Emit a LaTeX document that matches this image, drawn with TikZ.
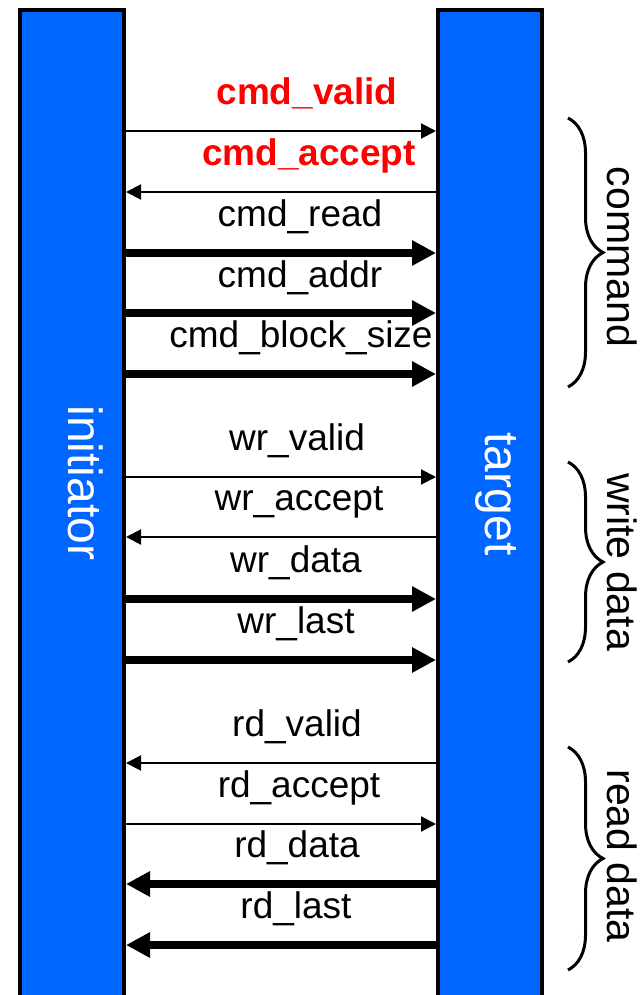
\documentclass[tikz,border=0pt]{standalone}
\usepackage{fontspec}
\setmainfont{Liberation Sans}
\usetikzlibrary{arrows.meta,decorations.pathreplacing}
\definecolor{barblue}{RGB}{0,102,255}

\begin{document}
\begin{tikzpicture}[x=1pt,y=-1pt]
	\tikzstyle{bar}=[draw=black, line width=4pt, fill=barblue, minimum width=104pt, minimum height=1010pt, inner sep=0pt]
	\tikzstyle{barname}=[rotate=-90, anchor=base, text=white, font=\fontsize{48}{48}\selectfont]
	\tikzstyle{sig}=[anchor=base, inner sep=0pt, font=\fontsize{37}{37}\selectfont]
	\tikzstyle{hot}=[sig, text=red, font=\fontsize{37}{37}\selectfont\bfseries]
	\tikzstyle{ctl}=[line width=2pt, -{Triangle[length=15pt,width=15pt]}]
	\tikzstyle{bus}=[line width=7.5pt, -{Triangle[length=24pt,width=24pt]}]
	\tikzstyle{bracket}=[line width=3pt, decorate, decoration={brace, amplitude=35pt}]
	\tikzstyle{groupname}=[rotate=-90, anchor=base, inner sep=0pt, font=\fontsize{41}{41}\selectfont]

	\useasboundingbox (0,0) rectangle (641,995);
	\clip (0,0) rectangle (641,995);

	% the two blocks
	\node[bar] (ini) at (72,515) {};
	\node[bar] (tgt) at (490,515) {};
	\node[barname] (initxt) at (68,483) {initiator};
	\node[barname] (tgttxt) at (485,494) {target};

	% command
	\node[hot] (lcmdvalid) at (307,105) {cmd\_valid};
	\draw[ctl] (ini.east |- 0,131) -- (tgt.west |- 0,131);
	\node[hot] (lcmdaccept) at (309,166) {cmd\_accept};
	\draw[ctl] (tgt.west |- 0,192) -- (ini.east |- 0,192);
	\node[sig] (lcmdread) at (300,226) {cmd\_read};
	\draw[bus] (ini.east |- 0,253) -- (tgt.west |- 0,253);
	\node[sig] (lcmdaddr) at (300,287) {cmd\_addr};
	\draw[bus] (ini.east |- 0,313) -- (tgt.west |- 0,313);
	\node[sig] (lcmdsize) at (301,347) {cmd\_block\_size};
	\draw[bus] (ini.east |- 0,374) -- (tgt.west |- 0,374);

	% write data
	\node[sig] (lwrvalid) at (297,450) {wr\_valid};
	\draw[ctl] (ini.east |- 0,477) -- (tgt.west |- 0,477);
	\node[sig] (lwraccept) at (299,510) {wr\_accept};
	\draw[ctl] (tgt.west |- 0,537) -- (ini.east |- 0,537);
	\node[sig] (lwrdata) at (296,572) {wr\_data};
	\draw[bus] (ini.east |- 0,599) -- (tgt.west |- 0,599);
	\node[sig] (lwrlast) at (296,633) {wr\_last};
	\draw[bus] (ini.east |- 0,660) -- (tgt.west |- 0,660);

	% read data
	\node[sig] (lrdvalid) at (297,736) {rd\_valid};
	\draw[ctl] (tgt.west |- 0,763) -- (ini.east |- 0,763);
	\node[sig] (lrdaccept) at (299,797) {rd\_accept};
	\draw[ctl] (ini.east |- 0,824) -- (tgt.west |- 0,824);
	\node[sig] (lrddata) at (297,857) {rd\_data};
	\draw[bus] (tgt.west |- 0,884) -- (ini.east |- 0,884);
	\node[sig] (lrdlast) at (296,918) {rd\_last};
	\draw[bus] (tgt.west |- 0,945) -- (ini.east |- 0,945);

	% braces
	\coordinate (cmdtop) at (568,118);
	\coordinate (cmdbot) at (568,387);
	\draw[bracket] (cmdtop) -- (cmdbot);
	\node[groupname] (cmdtxt) at (607,257) {command};
	\coordinate (wrtop) at (568,462);
	\coordinate (wrbot) at (568,662);
	\draw[bracket] (wrtop) -- (wrbot);
	\node[groupname] (wrtxt) at (607,562) {write data};
	\coordinate (rdtop) at (568,747);
	\coordinate (rdbot) at (568,970);
	\draw[bracket] (rdtop) -- (rdbot);
	\node[groupname] (rdtxt) at (607,856) {read data};
\end{tikzpicture}
\end{document}
